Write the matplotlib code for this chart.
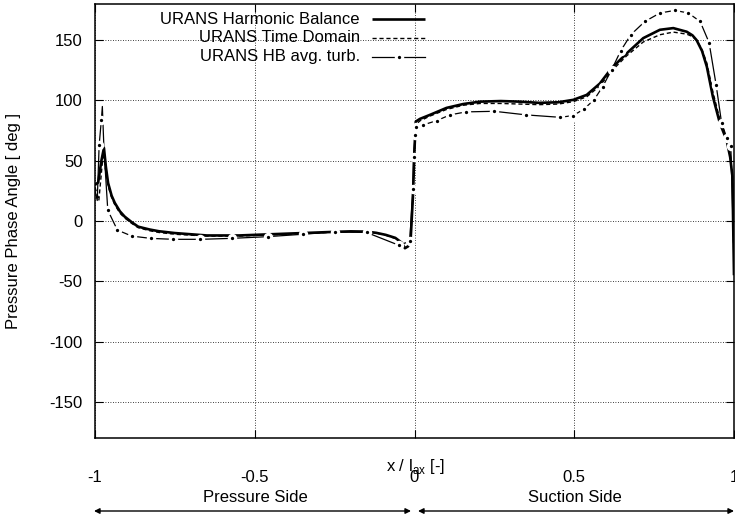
import matplotlib
matplotlib.use("Agg")
import matplotlib.pyplot as plt
from matplotlib.lines import Line2D
from matplotlib.patches import FancyArrowPatch

plt.rcParams['font.family'] = ['Liberation Sans', 'DejaVu Sans']
plt.rcParams['axes.unicode_minus'] = False

# URANS Harmonic Balance
x_hb = [-1.0, -0.99, -0.98, -0.972, -0.966, -0.959, -0.948, -0.938, -0.922, -0.907,
        -0.885, -0.865, -0.83, -0.80, -0.75, -0.65, -0.55, -0.45, -0.35, -0.25,
        -0.20, -0.15, -0.12, -0.09, -0.06, -0.04, -0.03, -0.02, -0.012, -0.005,
        0.0, 0.004, 0.017, 0.048, 0.10, 0.152, 0.205, 0.27, 0.33, 0.39,
        0.45, 0.497, 0.539, 0.58, 0.617, 0.664, 0.716, 0.768, 0.81, 0.852,
        0.87, 0.883, 0.90, 0.915, 0.934, 0.956, 0.977, 0.988, 0.995, 1.0]
y_hb = [30, 32, 50, 60.6, 45, 31.5, 21, 15, 8, 3.6,
        -1, -4.7, -7, -8.5, -10, -12, -12, -11, -10, -9,
        -8.6, -8.8, -9.8, -11.5, -14, -18, -22.6, -21, -15, 20,
        60, 82.5, 84.7, 88, 93.8, 97, 99, 99.5, 99, 98,
        98.5, 100.5, 104.6, 114, 126.8, 139, 151.7, 158.6, 160, 157,
        154, 150, 141, 128, 103, 81, 67, 53, 37, -45]

# URANS Time Domain
x_td = [-1.0, -0.993, -0.988, -0.98, -0.974, -0.967, -0.959, -0.948, -0.938, -0.922,
        -0.907, -0.885, -0.865, -0.83, -0.80, -0.75, -0.65, -0.55, -0.45, -0.35,
        -0.25, -0.20, -0.15, -0.12, -0.09, -0.06, -0.04, -0.03, -0.02, -0.012,
        -0.005, 0.0, 0.004, 0.017, 0.048, 0.10, 0.152, 0.205, 0.27, 0.33,
        0.39, 0.45, 0.497, 0.539, 0.58, 0.617, 0.664, 0.716, 0.768, 0.81,
        0.852, 0.87, 0.883, 0.90, 0.915, 0.934, 0.956, 0.977, 0.988, 0.995, 1.0]
y_td = [28, 22, 17, 40, 56.5, 42, 29, 19.5, 13.5, 6.5,
        2.5, -2, -5.5, -8, -9.5, -11, -12.5, -12.5, -11.5, -10.5,
        -9.2, -8.8, -9, -10, -11.8, -14.5, -18.5, -22, -20.5, -15,
        20, 55, 80, 83, 87, 92.5, 96, 97.5, 97.5, 97,
        96.5, 97, 99, 103, 112, 124.5, 137, 148.5, 154.5, 156.7,
        155, 153, 150, 142, 131, 107, 84, 69, 55, 38, -40]

# URANS HB with averaged turbulence
x_av = [-1.0, -0.993, -0.987, -0.980, -0.977, -0.972, -0.960, -0.930, -0.885, -0.826,
        -0.755, -0.670, -0.572, -0.460, -0.350, -0.250, -0.150, -0.050, -0.015, -0.005,
        -0.003, 0.002, 0.006, 0.027, 0.070, 0.111, 0.161, 0.25, 0.35, 0.456,
        0.497, 0.53, 0.562, 0.589, 0.617, 0.645, 0.677, 0.721, 0.768, 0.815,
        0.857, 0.894, 0.922, 0.944, 0.961, 0.977, 0.990, 1.0]
y_av = [25, 17, 63, 84, 95, 60, 9, -7.5, -12.5, -14.4,
        -15.2, -15.2, -14.4, -13, -11, -9, -9.5, -20, -17, 26.6,
        53, 71, 78.3, 79.7, 83.3, 88, 90.5, 91, 88, 86,
        87.5, 92.8, 100.5, 111.5, 125.4, 141, 154.5, 165.5, 172.5, 174.7,
        172.5, 165.5, 148, 113, 81.6, 69, 62.5, -30]
av_marks = [i for i in range(len(x_av)) if i not in (0, 1, 4, 5, len(x_av) - 1)]

labels = ["URANS Harmonic Balance", "URANS Time Domain", "URANS HB avg. turb."]
x_ticks = [-1, -0.5, 0, 0.5, 1]
x_ticklabels = ["-1", "-0.5", "0", "0.5", "1"]
y_ticks = [-150, -100, -50, 0, 50, 100, 150]

W, H = 735, 515
fig = plt.figure(figsize=(W / 100, H / 100), dpi=100)
ax = fig.add_axes([95 / W, (H - 438) / H, (734 - 95) / W, (438 - 4) / H])

hb_style = dict(color='black', lw=1.9, solid_capstyle='butt', solid_joinstyle='round')
td_style = dict(color='black', lw=1.0, dashes=(3, 2))
av_style = dict(color='black', lw=0.9, marker='o', markersize=4.6,
                markerfacecolor='black', markeredgecolor='white', markeredgewidth=2.2)

ax.plot(x_hb, y_hb, **hb_style)
ax.plot(x_td, y_td, **td_style)
ax.plot(x_av, y_av, markevery=av_marks, **av_style)

ax.set_xlim(-1, 1)
ax.set_ylim(-180, 180)
ax.set_xticks(x_ticks)
ax.set_xticklabels(x_ticklabels)
ax.set_yticks(y_ticks)
ax.tick_params(direction='in', length=6, width=0.8, top=True, right=True,
               labelsize=12)
ax.tick_params(axis='x', pad=23)
ax.tick_params(axis='y', pad=9)
ax.grid(True, color='black', linestyle=(0, (1, 2)), lw=0.6)
for s in ax.spines.values():
    s.set_linewidth(1.1)


def fx(px):
    return px / W


def fy(py):
    return 1 - py / H


# legend: right-aligned keys with line samples on the right
styles = [hb_style, td_style, av_style]
for i, (lab, st) in enumerate(zip(labels, styles)):
    yy = 19 + 19 * i
    fig.text(fx(360), fy(yy), lab, ha='right', va='center', fontsize=12)
    if 'marker' in st:
        fig.add_artist(Line2D([fx(372), fx(398.5), fx(425)], [fy(yy)] * 3,
                              transform=fig.transFigure, markevery=[1], **st))
    else:
        fig.add_artist(Line2D([fx(372), fx(425)], [fy(yy)] * 2,
                              transform=fig.transFigure, **st))

fig.text(fx(14), fy(221), "Pressure Phase Angle [ deg ]", rotation=90,
         ha='center', va='center', fontsize=12)
fig.text(fx(415), fy(466), r"x / l$_{\mathregular{ax}}$ [-]", ha='center', va='center',
         fontsize=12)

fig.text(fx(255), fy(497), "Pressure Side", ha='center', va='center', fontsize=12)
fig.text(fx(575), fy(497), "Suction Side", ha='center', va='center', fontsize=12)
arrow = dict(arrowstyle='<|-|>', color='black', lw=1.0, mutation_scale=8,
             shrinkA=0, shrinkB=0)
fig.add_artist(FancyArrowPatch((fx(94), fy(511)), (fx(411), fy(511)),
                               transform=fig.transFigure, **arrow))
fig.add_artist(FancyArrowPatch((fx(418), fy(511)), (fx(734), fy(511)),
                               transform=fig.transFigure, **arrow))

fig.savefig("out.png", dpi=100)
